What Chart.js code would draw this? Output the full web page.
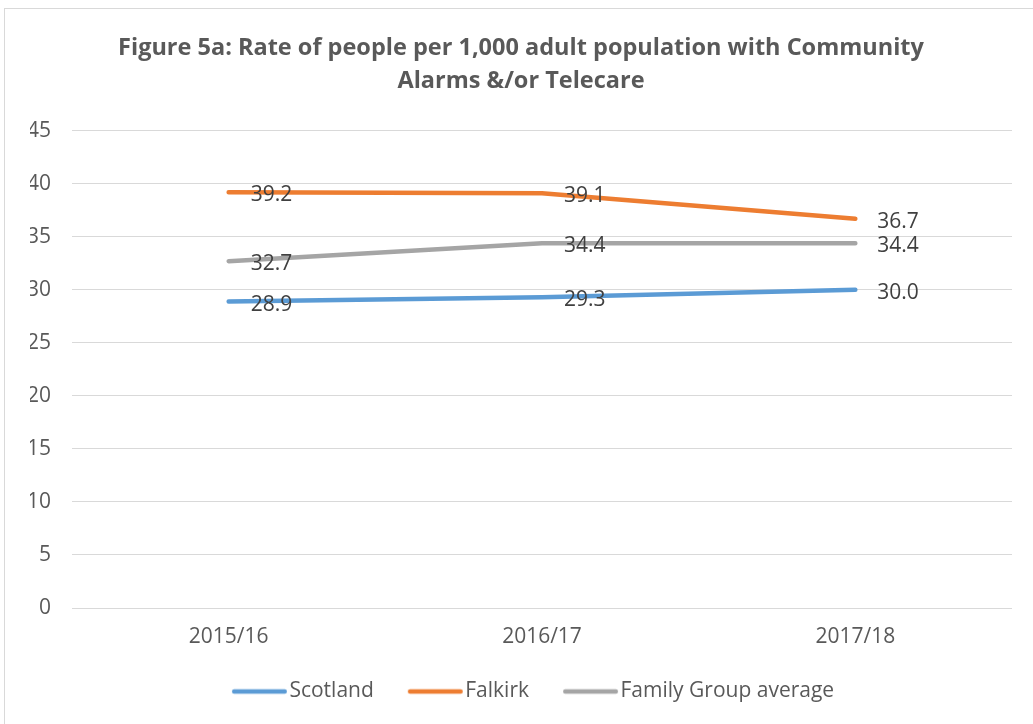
<!DOCTYPE html>
<html>
<head>
<meta charset="utf-8">
<title>Figure 5a</title>
<script src="https://cdn.jsdelivr.net/npm/chart.js@4.4.1/dist/chart.umd.min.js"></script>
<style>
  html, body { margin: 0; padding: 0; background: #ffffff; }
  body { width: 1033px; height: 724px; position: relative; overflow: hidden; }
  #frame {
    position: absolute; left: 4px; top: 8px; width: 1040px; height: 740px;
    border: 1px solid #d9d9d9; box-sizing: border-box;
  }
  #wrap { position: absolute; left: 0; top: 0; width: 1033px; height: 724px; }
</style>
</head>
<body>
<div id="frame"></div>
<div id="wrap"><canvas id="chart"></canvas></div>
<script>
// Reporting years
const years = ['2015/16', '2016/17', '2017/18'];

// Rate per 1,000 adult population
const scotland = [28.9, 29.3, 30.0];
const falkirk = [39.2, 39.1, 36.7];
const familyGroup = [32.7, 34.4, 34.4];

// Value axis
const yMin = 0;
const yMax = 45;
const yStep = 5;

const titleLines = [
  'Figure 5a: Rate of people per 1,000 adult population with Community',
  'Alarms &/or Telecare'
];

const FONT = "'Open Sans', sans-serif";
const LEGEND_SIZE = 21;

// Writes each point's value just to the right of it
const valueLabels = {
  id: 'valueLabels',
  afterDatasetsDraw(chart) {
    const ctx = chart.ctx;
    ctx.save();
    ctx.font = '21px ' + FONT;
    ctx.fillStyle = '#404040';
    ctx.textAlign = 'left';
    ctx.textBaseline = 'middle';
    chart.data.datasets.forEach((ds, i) => {
      const meta = chart.getDatasetMeta(i);
      if (meta.hidden) return;
      meta.data.forEach((pt, j) => {
        ctx.fillText(ds.data[j].toFixed(1), pt.x + 22, pt.y + 3);
      });
    });
    ctx.restore();
  }
};

// Legend swatch: a short line drawn at the right end of the legend box,
// so the text follows it closely and the gap before the next item widens
const SWATCH_BOX = 71;
const SWATCH_START = 24;
const SWATCH_LEN = 55;
function swatch(color) {
  const c = document.createElement('canvas');
  const half = SWATCH_BOX / 2;
  const w = Math.ceil(2 * Math.max(half, SWATCH_START + SWATCH_LEN - half)) + 2;
  c.width = w;
  c.height = 10;
  const g = c.getContext('2d');
  const x0 = w / 2 - half + SWATCH_START;
  g.strokeStyle = color;
  g.lineWidth = 4.5;
  g.lineCap = 'round';
  g.beginPath();
  g.moveTo(x0 + 2.25, 5);
  g.lineTo(x0 + SWATCH_LEN - 2.25, 5);
  g.stroke();
  return c;
}

function series(label, data, color) {
  return {
    label, data,
    borderColor: color,
    backgroundColor: color,
    borderWidth: 4.5,
    borderCapStyle: 'round',
    borderJoinStyle: 'round',
    pointRadius: 0,
    pointHoverRadius: 0,
    pointStyle: swatch(color),
    tension: 0,
    fill: false
  };
}

new Chart(document.getElementById('chart'), {
  type: 'line',
  data: {
    labels: years,
    datasets: [
      series('Scotland', scotland, '#5B9BD5'),
      series('Falkirk', falkirk, '#ED7D31'),
      series('Family Group average', familyGroup, '#A5A5A5')
    ]
  },
  plugins: [valueLabels],
  options: {
    responsive: true,
    maintainAspectRatio: false,
    animation: false,
    events: [],
    layout: { padding: { left: 30, right: 21, top: 0, bottom: 12 } },
    plugins: {
      title: {
        display: true,
        text: titleLines,
        color: '#595959',
        font: { family: FONT, size: 23.5, weight: 'bold', lineHeight: 1.4 },
        padding: { top: 32, bottom: 33 }
      },
      legend: {
        position: 'bottom',
        labels: {
          color: '#595959',
          font: { family: FONT, size: LEGEND_SIZE },
          usePointStyle: true,
          pointStyleWidth: SWATCH_BOX,
          boxHeight: LEGEND_SIZE,
          padding: 10
        }
      },
      tooltip: { enabled: false }
    },
    scales: {
      x: {
        offset: true,
        grid: { display: false },
        border: { display: false },
        ticks: { color: '#595959', font: { family: FONT, size: 21 }, padding: 8 },
        afterFit(scale) { scale.height = 63; }
      },
      y: {
        min: yMin,
        max: yMax,
        grid: { color: '#d9d9d9', lineWidth: 1, drawTicks: false },
        border: { display: false },
        ticks: {
          stepSize: yStep,
          color: '#595959',
          font: { family: FONT, size: 21 },
          padding: 21
        },
        afterFit(scale) { scale.width = 42; }
      }
    }
  }
});
</script>
</body>
</html>
